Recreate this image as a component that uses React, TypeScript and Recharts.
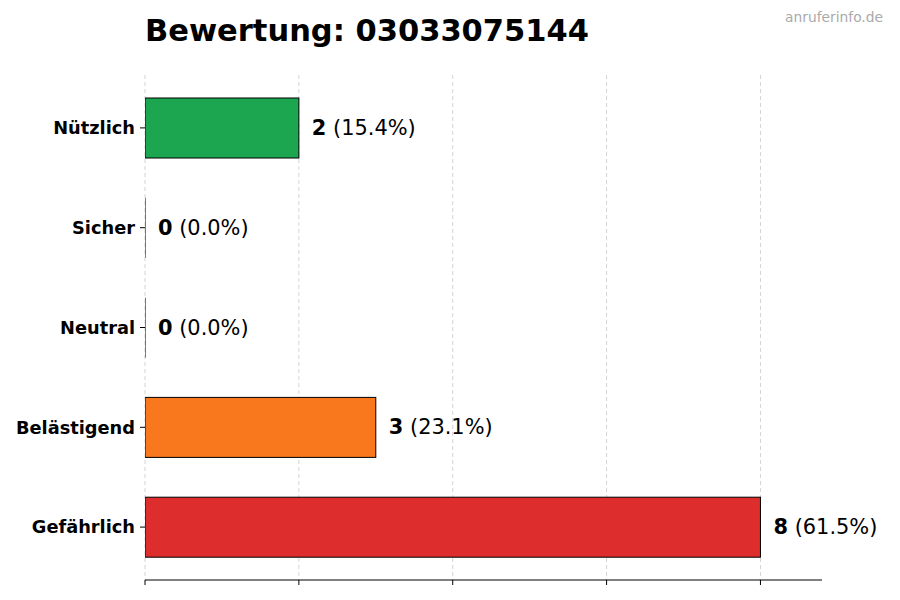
import { BarChart, Bar, XAxis, YAxis, CartesianGrid, LabelList } from "recharts";

const categories = ["Nützlich", "Sicher", "Neutral", "Belästigend", "Gefährlich"];
const counts = [2, 0, 0, 3, 8];
const colors = ["#16a34a", "#16a34a", "#6b7280", "#f97316", "#dc2626"];
const xTicks = [0, 2, 4, 6, 8];

const total = counts.reduce((a, b) => a + b, 0);
const data = categories.map((name, i) => ({
  name,
  count: counts[i],
  color: colors[i],
  pct: total ? ((counts[i] / total) * 100).toFixed(1) : "0.0",
}));

const FONT = "DejaVu Sans";

const BarShape = (props: any) => {
  const { x, y, width, height, payload } = props;
  if (payload.count === 0) {
    // zero bar: only the edge is visible
    return <path d={`M${x},${y} V${y + height}`} stroke="#000" strokeWidth={1} fill="none" />;
  }
  return (
    <rect
      x={x}
      y={y}
      width={Math.max(0, width)}
      height={height}
      fill={payload.color}
      fillOpacity={0.97}
      stroke="#000"
      strokeWidth={1}
    />
  );
};

const ValueLabel = (props: any) => {
  const { x, y, height, index } = props;
  const d = data[index];
  const w = d.count === 0 ? 0 : props.width;
  return (
    <text
      x={x + w + 13}
      y={y + height / 2}
      dominantBaseline="central"
      fontFamily={FONT}
      fontSize={20.9}
      fill="#000"
    >
      <tspan fontWeight="bold">{d.count}</tspan>
      <tspan> ({d.pct}%)</tspan>
    </text>
  );
};

export default function App() {
  return (
    <div style={{ position: "absolute", left: 0, top: 0, width: 900, height: 600, background: "#fff" }}>
      <BarChart
        width={900}
        height={600}
        data={data}
        layout="vertical"
        margin={{ top: 75, right: 78, bottom: 0, left: 0 }}
        barCategoryGap={0}
      >
        <CartesianGrid horizontal={false} stroke="#d4d4d4" strokeDasharray="4 3" syncWithTicks />
        <XAxis
          type="number"
          domain={[0, 8.8]}
          ticks={xTicks}
          height={20}
          axisLine={{ stroke: "#000", strokeWidth: 1 }}
          tickLine={{ stroke: "#000" }}
          tickSize={5}
          tickFormatter={() => ""}
          allowDataOverflow
        />
        <YAxis
          type="category"
          dataKey="name"
          width={145}
          padding={{ top: 3, bottom: 3 }}
          axisLine={false}
          tickLine={{ stroke: "#000" }}
          tickSize={5}
          tickMargin={5}
          tick={{ fontFamily: FONT, fontSize: 17.8, fontWeight: "bold", fill: "#000" }}
        />
        <Bar dataKey="count" barSize={60} minPointSize={1} shape={BarShape} isAnimationActive={false}>
          <LabelList dataKey="count" content={ValueLabel} />
        </Bar>
        <text x={145} y={41} fontFamily={FONT} fontSize={30.5} fontWeight="bold" fill="#000">
          Bewertung: 03033075144
        </text>
        <text x={883} y={22} textAnchor="end" fontFamily={FONT} fontSize={13.8} fill="#aaaaaa">
          anruferinfo.de
        </text>
      </BarChart>
    </div>
  );
}
